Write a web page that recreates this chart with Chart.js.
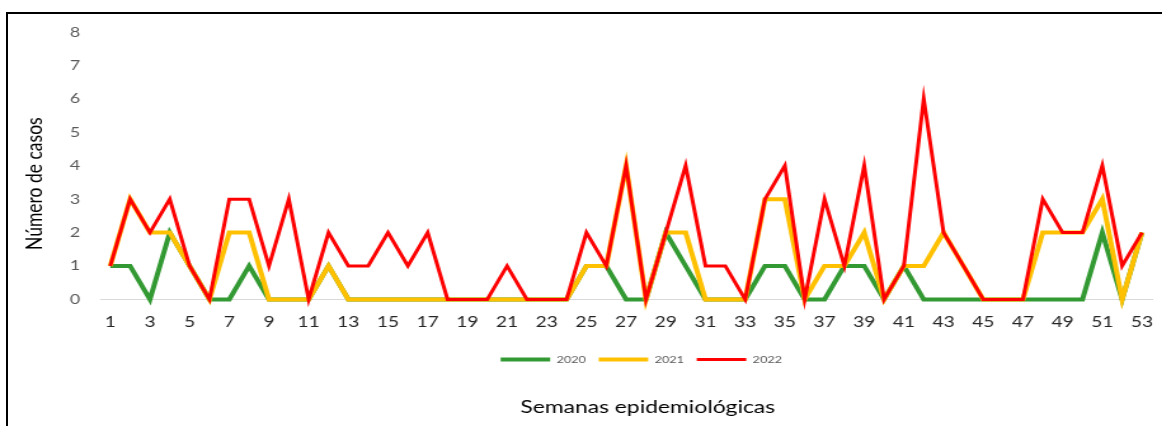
<!DOCTYPE html>
<html>
<head>
<meta charset="utf-8">
<script src="https://cdn.jsdelivr.net/npm/chart.js@4.4.1/dist/chart.umd.min.js"></script>
<style>
  html, body { margin: 0; padding: 0; background: #fff; }
  #wrap { position: relative; width: 1162px; height: 426px; overflow: hidden; }
  /* the source picture is stretched sideways, so the chart is drawn narrow and scaled */
  #stretch { position: absolute; left: 0; top: 0; width: 915px; height: 426px;
             transform: scaleX(1.27); transform-origin: 0 0; }
  #frame { position: absolute; left: 6px; top: 12px; width: 1200px; height: 500px;
           border-left: 2px solid #000; border-top: 2px solid #000; pointer-events: none; }
</style>
</head>
<body>
<div id="wrap">
  <div id="stretch"><canvas id="chart" width="915" height="426"></canvas></div>
  <div id="frame"></div>
</div>
<script>
// semanas 1..53
const weeks = Array.from({ length: 53 }, (_, i) => String(i + 1));

const cases2020 = [1,1,0,2,1,0,0,1,0,0,0,1,0,0,0,0,0,0,0,0,0,0,0,0,1,1,0,0,2,1,0,0,0,1,1,0,0,1,1,0,1,0,0,0,0,0,0,0,0,0,2,0,2];
const cases2021 = [1,3,2,2,1,0,2,2,0,0,0,1,0,0,0,0,0,0,0,0,0,0,0,0,1,1,4,0,2,2,0,0,0,3,3,0,1,1,2,0,1,1,2,1,0,0,0,2,2,2,3,0,2];
const cases2022 = [1,3,2,3,1,0,3,3,1,3,0,2,1,1,2,1,2,0,0,0,1,0,0,0,2,1,4,0,2,4,1,1,0,3,4,0,3,1,4,0,1,6,2,1,0,0,0,3,2,2,4,1,2];

const FONT = "Lato, 'Open Sans', sans-serif";

// nudge legend + bottom title right of the plot centre, and the y title down, like the source
const shiftTitles = {
  id: "shiftTitles",
  afterLayout(chart) {
    if (chart.legend) { chart.legend.left += 12; chart.legend.right += 12; }
    if (chart.titleBlock) { chart.titleBlock.left += 17; chart.titleBlock.right += 17; }
    const y = chart.scales.y;
    y.top += 18; y.bottom += 18; // pixel mapping is already configured, only the title moves
  }
};

const ctx = document.getElementById("chart");
new Chart(ctx, {
  type: "line",
  data: {
    labels: weeks,
    datasets: [
      { label: "2020", data: cases2020, borderColor: "#339933", backgroundColor: "#339933", borderWidth: 4, order: 3 },
      { label: "2021", data: cases2021, borderColor: "#FFC000", backgroundColor: "#FFC000", borderWidth: 4, order: 2 },
      { label: "2022", data: cases2022, borderColor: "#FF0000", backgroundColor: "#FF0000", borderWidth: 3, order: 1 }
    ]
  },
  options: {
    responsive: false,
    animation: false,
    layout: { padding: { top: 32, right: 8, bottom: 0, left: 0 } },
    elements: {
      point: { radius: 0, hoverRadius: 0 },
      line: { tension: 0, borderJoinStyle: "miter" }
    },
    scales: {
      x: {
        offset: true,
        grid: { display: false, drawTicks: false },
        border: { display: true, color: "#d9d9d9", width: 1 },
        ticks: {
          autoSkip: false,
          maxRotation: 0,
          padding: 14,
          color: "#262626",
          font: { family: FONT, size: 15 },
          callback: function (v, i) { return i % 2 === 0 ? this.getLabelForValue(v) : ""; }
        },
        afterFit: (s) => { s.height = 45; s.paddingLeft = 0; s.paddingRight = 0; }
      },
      y: {
        min: 0,
        max: 8,
        grid: { display: false, drawTicks: false },
        border: { display: false },
        ticks: { stepSize: 1, padding: 16, color: "#595959", font: { family: FONT, size: 14 } },
        title: {
          display: true,
          text: "Número de casos",
          color: "#000",
          font: { family: FONT, size: 17.5 },
          padding: { top: 17, bottom: 0 }
        },
        afterFit: (s) => { s.width = 79; }
      }
    },
    plugins: {
      legend: {
        position: "bottom",
        fullSize: false,
        labels: {
          usePointStyle: true,
          pointStyle: "line",
          pointStyleWidth: 39,
          boxHeight: 10,
          padding: 10,
          color: "#595959",
          font: { family: FONT, size: 10 },
          sort: (a, b) => a.datasetIndex - b.datasetIndex
        }
      },
      title: {
        display: true,
        position: "bottom",
        fullSize: false,
        text: "Semanas epidemiológicas",
        color: "#000",
        font: { family: FONT, size: 18, weight: "normal" },
        padding: { top: 22, bottom: 8 }
      },
      tooltip: { enabled: false }
    }
  },
  plugins: [shiftTitles]
});
</script>
</body>
</html>
